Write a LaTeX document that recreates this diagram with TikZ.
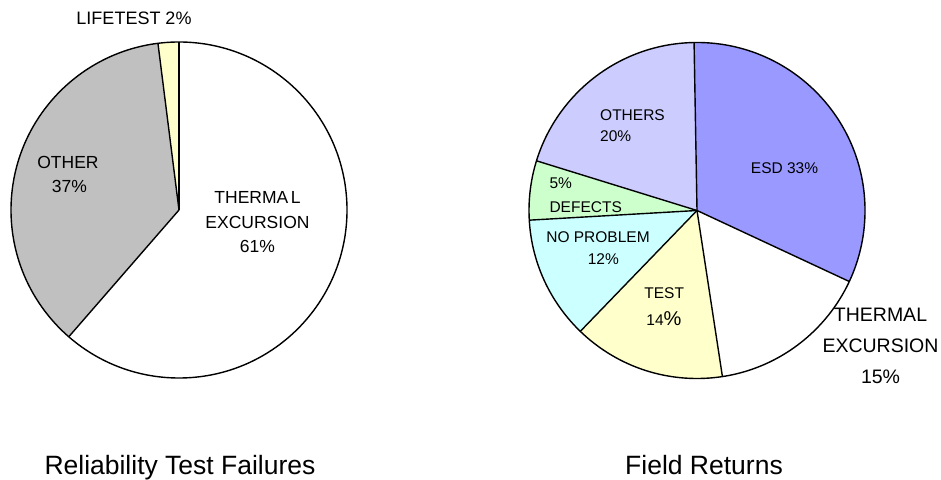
\documentclass[tikz,border=0pt]{standalone}
\usepackage{fontspec}
\setmainfont{Liberation Sans}
\definecolor{otherGray}{HTML}{C0C0C0}
\definecolor{paleYellow}{HTML}{FFFFCC}
\definecolor{esdBlue}{HTML}{9999FF}
\definecolor{othersLilac}{HTML}{CCCCFF}
\definecolor{defectsGreen}{HTML}{CCFFCC}
\definecolor{noprobCyan}{HTML}{CCFFFF}
\begin{document}
\begin{tikzpicture}[x=1pt,y=1pt,
  pieline/.style={line width=1.4pt, line join=round, draw=black},
  lblA/.style={font=\fontsize{17.5}{24.5}\selectfont, inner sep=0pt},
  lblB/.style={font=\fontsize{15.5}{21}\selectfont, inner sep=0pt},
  lblC/.style={font=\fontsize{19.5}{31}\selectfont, inner sep=0pt},
  title/.style={font=\fontsize{26.5}{30}\selectfont, inner sep=0pt, anchor=base}]
\useasboundingbox (0,0) rectangle (941,479);
\fill[white] (0,0) rectangle (941,479);

% ---------- left pie ----------
\coordinate (L) at (179,269);
\fill[white]      (L) -- ++(229:168) arc[start angle=229, end angle=450, radius=168] -- cycle;
\fill[otherGray]  (L) -- ++(97.2:168) arc[start angle=97.2, end angle=229, radius=168] -- cycle;
\fill[paleYellow] (L) -- ++(90:168) arc[start angle=90, end angle=97.2, radius=168] -- cycle;
\draw[pieline] (L) circle[radius=168];
\draw[pieline] (L) -- ++(90:168);
\draw[pieline] (L) -- ++(97.2:168);
\draw[pieline] (L) -- ++(229:168);

\node[lblA, font=\fontsize{18}{20}\selectfont, anchor=base] (lifetest) at (134,454.6) {LIFETEST 2\%};
\node[lblA, anchor=base] (other) at (68,310) {OTHER};
\node[lblA, anchor=base] (otherpct) at (69.5,286) {37\%};
\node[lblA, anchor=base] (thermL1) at (257.5,275.2) {THERMA\kern2.5pt L};
\node[lblA, anchor=base] (thermL2) at (257.5,250.4) {EXCURSION};
\node[lblA, anchor=base] (thermL3) at (257.5,226.2) {61\%};

% ---------- right pie ----------
\coordinate (P) at (697,268.5);
\fill[esdBlue]      (P) -- ++(-25:168) arc[start angle=-25, end angle=91, radius=168] -- cycle;
\fill[white]        (P) -- ++(-81.3:168) arc[start angle=-81.3, end angle=-25, radius=168] -- cycle;
\fill[paleYellow]   (P) -- ++(-134:168) arc[start angle=-134, end angle=-81.3, radius=168] -- cycle;
\fill[noprobCyan]   (P) -- ++(183.3:168) arc[start angle=183.3, end angle=226, radius=168] -- cycle;
\fill[defectsGreen] (P) -- ++(162.8:168) arc[start angle=162.8, end angle=183.3, radius=168] -- cycle;
\fill[othersLilac]  (P) -- ++(91:168) arc[start angle=91, end angle=162.8, radius=168] -- cycle;
\draw[pieline] (P) circle[radius=168];
\foreach \a in {91,-25,-81.3,-134,183.3,162.8} {
  \draw[pieline] (P) -- ++(\a:168);
}

\node[lblB, anchor=base west] (others1) at (600,358.5) {OTHERS};
\node[lblB, anchor=base west] (others2) at (600,337.5) {20\%};
\node[lblB, anchor=base] (esd) at (784.5,305.8) {ESD 33\%};
\node[lblB, anchor=base west] (def1) at (549.3,290.2) {5\%};
\node[lblB, anchor=base west] (def2) at (549.3,266.8) {DEFECTS};
\node[lblB, anchor=base] (np1) at (598,236.8) {NO PROBLEM};
\node[lblB, anchor=base] (np2) at (603.3,214.5) {12\%};
\node[lblB, anchor=base] (test1) at (664.2,180.2) {TEST};
\node[lblB, anchor=base] (test2) at (664,153) {14{\fontsize{20}{22}\selectfont\%}};
\node[lblC, anchor=base] (thermR1) at (880.5,157) {THERMAL};
\node[lblC, anchor=base] (thermR2) at (880.5,126.3) {EXCURSION};
\node[lblC, anchor=base] (thermR3) at (880.5,95.3) {15\%};

% ---------- titles ----------
\node[title] (titleL) at (180,5) {Reliability Test Failures};
\node[title] (titleR) at (704,5) {Field Returns};
\end{tikzpicture}
\end{document}
